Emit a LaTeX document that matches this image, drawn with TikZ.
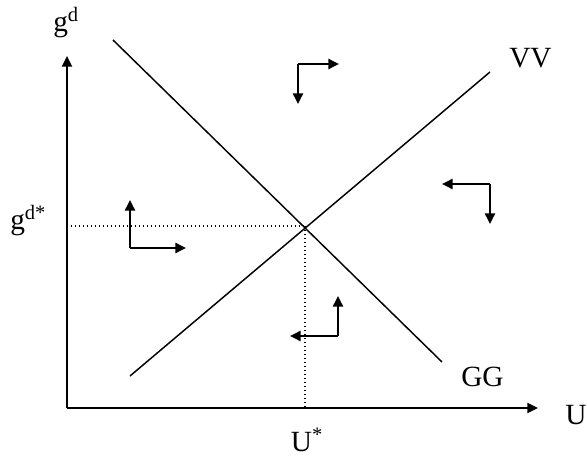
\documentclass[tikz,border=0pt]{standalone}
\usepackage{fontspec}
\setmainfont{Liberation Serif}
\usetikzlibrary{arrows.meta}
\begin{document}
\begin{tikzpicture}[x=0.75pt,y=-0.75pt,
  axis/.style={line width=1.5pt,-{Triangle[length=8pt,width=7.5pt]}},
  curve/.style={line width=1.1pt},
  guide/.style={line width=1pt,dotted},
  dir/.style={line width=1.8pt,-{Triangle[length=8pt,width=7.5pt]}},
  lbl/.style={font=\fontsize{22}{26}\selectfont,inner sep=0pt,anchor=base west}]
\useasboundingbox (0,0) rectangle (587,460);
% axes
\coordinate (O) at (67,408);
\coordinate (Ytop) at (67,56);
\coordinate (Xend) at (538,408);
\draw[axis] (O) -- (Ytop);
\draw[axis] (O) -- (Xend);
% curves
\coordinate (GGa) at (113,40);
\coordinate (GGb) at (442,362);
\coordinate (VVa) at (130,376);
\coordinate (VVb) at (490,72);
\draw[curve] (GGa) -- (GGb);
\draw[curve] (VVa) -- (VVb);
% equilibrium
\coordinate (E) at (305,226);
\coordinate (Ey) at (67,226);
\coordinate (Ex) at (305,408);
\draw[guide] (Ey) -- (E);
\draw[guide] (E) -- (Ex);
% direction arrows
\coordinate (C1) at (298,64);
\coordinate (C1r) at (339,64);
\coordinate (C1d) at (298,104);
\draw[dir] (C1) -- (C1r);
\draw[dir] (C1) -- (C1d);
\coordinate (C2) at (490,184);
\coordinate (C2l) at (442,184);
\coordinate (C2d) at (490,224);
\draw[dir] (C2) -- (C2l);
\draw[dir] (C2) -- (C2d);
\coordinate (C3) at (130,248);
\coordinate (C3u) at (130,200);
\coordinate (C3r) at (186,248);
\draw[dir] (C3) -- (C3u);
\draw[dir] (C3) -- (C3r);
\coordinate (C4) at (338,336);
\coordinate (C4u) at (338,296);
\coordinate (C4l) at (290,336);
\draw[dir] (C4) -- (C4u);
\draw[dir] (C4) -- (C4l);
% labels
\node[lbl] (ly) at (53,32) {g\textsuperscript{d}};
\node[lbl] (lys) at (10,230) {g\textsuperscript{d*}};
\node[lbl] (lvv) at (509,68) {VV};
\node[lbl] (lgg) at (461,387) {GG};
\node[lbl] (lu) at (565,425) {U};
\node[lbl,anchor=base] (lus) at (307,452) {U\textsuperscript{*}};
\end{tikzpicture}
\end{document}
